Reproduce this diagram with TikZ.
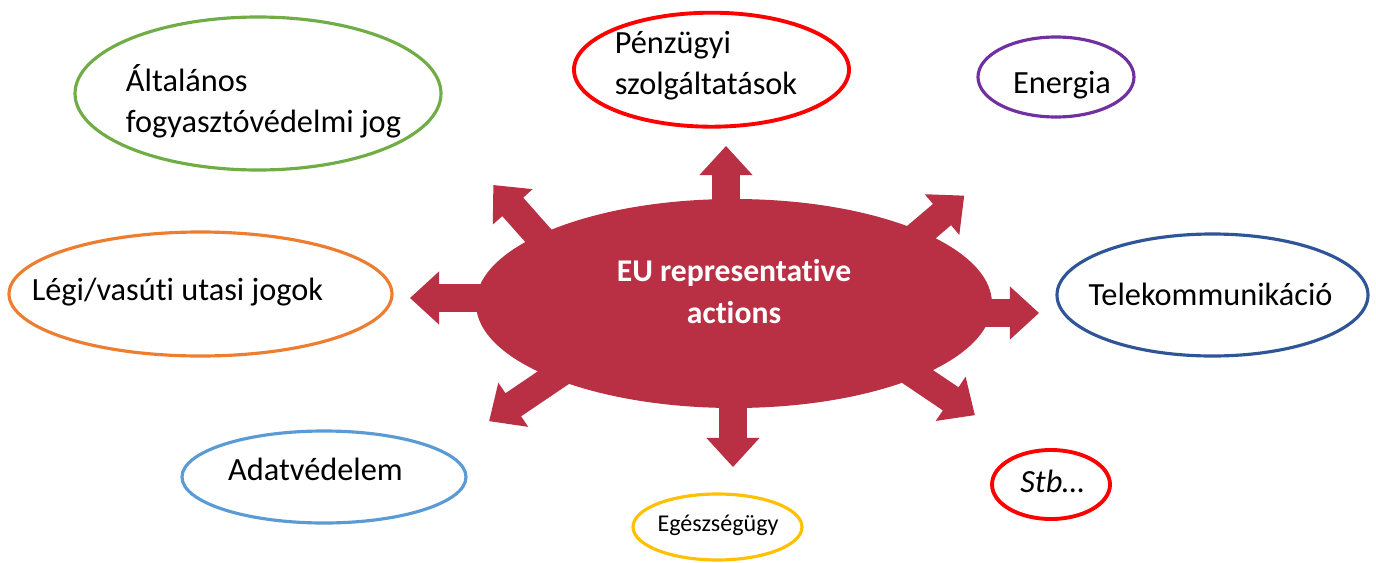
\documentclass[tikz,border=0pt]{standalone}
\usepackage{fontspec}
\setmainfont{Carlito}[Ligatures=CommonOff]
\usetikzlibrary{shapes.geometric,shapes.arrows}
\definecolor{hubred}{HTML}{B93045}
\definecolor{joggreen}{HTML}{70AD47}
\definecolor{legiorange}{HTML}{ED7D31}
\definecolor{energiapurple}{HTML}{7030A0}
\definecolor{telekomblue}{HTML}{2F5597}
\definecolor{adatblue}{HTML}{5B9BD5}
\definecolor{eggold}{HTML}{FFC000}
\begin{document}
\begin{tikzpicture}[
      topic/.style={draw,ellipse,inner sep=0pt,line width=0.9pt},
      topictext/.style={inner sep=0pt,font=\fontsize{9.2}{11.7}\selectfont},
      hub/.style={ellipse,fill=hubred,inner sep=0pt,
        minimum width=5.16cm,minimum height=2.09cm},
      hubtext/.style={text=white,align=center,
        font=\fontsize{9}{11.7}\selectfont\bfseries},
      fatarrow/.style={single arrow,fill=hubred,draw=none,anchor=tip,
        inner xsep=0pt,inner ysep=0.1325cm,minimum width=1pt,minimum height=1cm,
        single arrow head extend=0.1275cm,single arrow tip angle=85,
        single arrow head indent=0pt}]
    \useasboundingbox (0,0) rectangle (13.76,5.62);
    \node[hub] (eu) at (7.34,2.585) {};
    \node[fatarrow,rotate=90]    (up)    at (7.26,4.17) {};
    \node[fatarrow,rotate=270]   (down)  at (7.33,0.94) {};
    \node[fatarrow,rotate=180]   (left)  at (4.09,2.64) {};
    \node[fatarrow,rotate=0]     (right) at (10.40,2.49) {};
    \node[fatarrow,rotate=131.6] (upl)   at (4.927,3.777) {};
    \node[fatarrow,rotate=40.4]  (upr)   at (9.65,3.67) {};
    \node[fatarrow,rotate=214.1] (lowl)  at (4.883,1.403) {};
    \node[fatarrow,rotate=326]   (lowr)  at (9.757,1.463) {};
    \node[hubtext] (eutext) at ([yshift=0.12cm]eu.center) {EU representative\\actions};
    \node[topic,draw=joggreen,minimum width=3.66cm,minimum height=1.53cm] (jog) at (2.58,4.685) {};
    \node[topictext,align=left] (jogtext) at (2.635,4.61) {Általános\\fogyasztóvédelmi jog};
    \node[topic,draw=red,line width=1.1pt,minimum width=2.75cm,minimum height=1.14cm] (penz) at (7.115,4.923) {};
    \node[topictext,align=left] (penztext) at (7.06,4.965) {Pénzügyi\\szolgáltatások};
    \node[topic,draw=energiapurple,minimum width=1.56cm,minimum height=0.80cm] (energia) at (10.56,4.85) {};
    \node[topictext,anchor=base] (energiatext) at (10.62,4.69) {Energia};
    \node[topic,draw=telekomblue,minimum width=3.11cm,minimum height=1.22cm] (telekom) at (12.125,2.67) {};
    \node[topictext,anchor=base] (telekomtext) at (12.105,2.57) {Telekommunikáció};
    \node[topic,draw=legiorange,minimum width=3.83cm,minimum height=1.24cm] (legi) at (2.005,2.68) {};
    \node[topictext,anchor=base] (legitext) at (1.775,2.62) {Légi/vasúti utasi jogok};
    \node[topic,draw=adatblue,minimum width=2.84cm,minimum height=0.92cm] (adat) at (3.24,0.85) {};
    \node[topictext,anchor=base] (adattext) at (3.155,0.82) {Adatvédelem};
    \node[topic,draw=eggold,minimum width=1.69cm,minimum height=0.66cm] (eg) at (7.175,0.35) {};
    \node[topictext,anchor=base,font=\fontsize{6.85}{8}\selectfont] (egtext) at (7.18,0.31) {Egészségügy};
    \node[topic,draw=red,line width=1.1pt,minimum width=1.18cm,minimum height=0.69cm] (stb) at (10.51,0.775) {};
    \node[topictext,anchor=base,font=\fontsize{9.2}{11.7}\selectfont\itshape] (stbtext) at (10.525,0.70) {Stb…};
  \end{tikzpicture}
\end{document}
